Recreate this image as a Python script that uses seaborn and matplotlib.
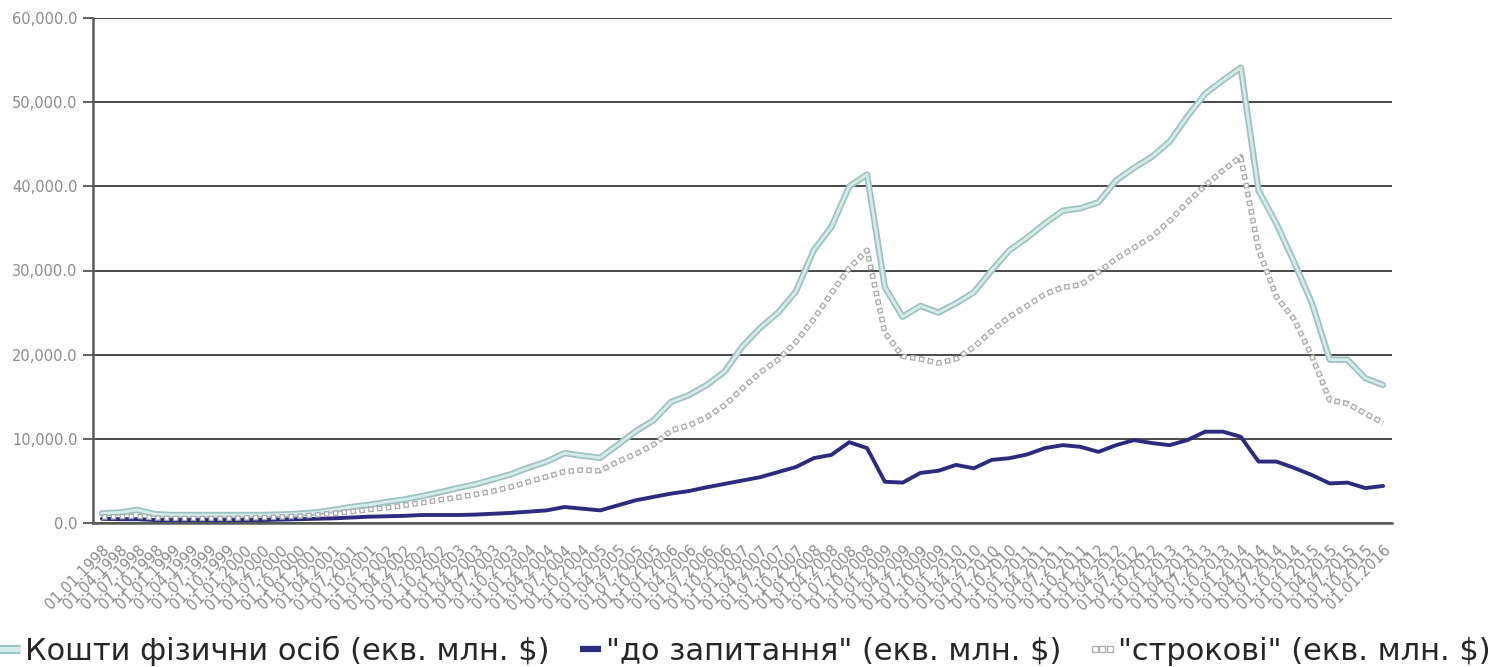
import numpy as np
import pandas as pd
import matplotlib
matplotlib.use("Agg")
import matplotlib.pyplot as plt
import matplotlib.patheffects as pe
from matplotlib.lines import Line2D
from matplotlib.legend_handler import HandlerLine2D
from matplotlib.ticker import FuncFormatter
import seaborn as sns

# --- дані: квартальні, 01.01.1998 - 01.01.2016, екв. млн. $ ---
dates = [f"01.{m:02d}.{y}" for y in range(1998, 2016) for m in (1, 4, 7, 10)] + ["01.01.2016"]

total = [1150, 1250, 1550, 1050, 950, 950, 950, 950, 950, 950,
         1000, 1100, 1250, 1550, 1900, 2150, 2500, 2800, 3200, 3650,
         4150, 4600, 5200, 5800, 6600, 7300, 8300, 8000, 7750, 9300,
         10900, 12200, 14400, 15200, 16400, 18000, 21000, 23200, 25000, 27500,
         32400, 35200, 40000, 41400, 28000, 24500, 25800, 25000, 26100, 27400,
         30000, 32400, 33900, 35600, 37100, 37400, 38100, 40700, 42200, 43500,
         45300, 48300, 51000, 52600, 54100, 39500, 35600, 31000, 26100, 19400,
         19400, 17200, 16400]

demand = [500, 450, 450, 350, 350, 350, 350, 350, 350, 350,
          400, 450, 500, 550, 650, 750, 800, 850, 950, 950,
          950, 1000, 1100, 1200, 1350, 1500, 1900, 1700, 1500, 2100,
          2700, 3100, 3500, 3800, 4250, 4650, 5050, 5450, 6050, 6650,
          7700, 8100, 9600, 8900, 4900, 4800, 5950, 6200, 6900, 6500,
          7500, 7700, 8150, 8900, 9250, 9050, 8450, 9250, 9850, 9500,
          9250, 9850, 10850, 10850, 10250, 7300, 7300, 6550, 5700, 4700,
          4800, 4150, 4400]

term = [700, 750, 800, 600, 550, 550, 550, 550, 600, 650,
        700, 800, 950, 1150, 1350, 1600, 1800, 2100, 2400, 2750,
        3050, 3400, 3800, 4300, 4900, 5500, 6100, 6300, 6200, 7300,
        8200, 9300, 11000, 11600, 12600, 14000, 16000, 17900, 19400, 21500,
        24200, 27300, 30300, 32400, 22600, 19800, 19500, 19000, 19500, 20900,
        22800, 24500, 25800, 27200, 28000, 28300, 29800, 31400, 32700, 34000,
        35900, 38100, 40100, 41900, 43500, 32500, 26900, 24200, 19800, 14600,
        14200, 13000, 11900]

labels = ["Кошти фізични осіб (екв. млн. $)",
          '"до запитання" (екв. млн. $)',
          '"строкові" (екв. млн. $)']

df = pd.DataFrame({"date": dates, "total": total, "demand": demand, "term": term})
df["pos"] = np.arange(len(df))

# --- стиль ---
sns.set_style("white")
plt.rcParams["font.family"] = ["DejaVu Sans"]
plt.rcParams["lines.scale_dashes"] = False

TEAL_IN, TEAL_OUT = "#d7ecea", "#9cc3c1"
NAVY = "#2d2b7d"
GREY = "#a8a8a8"
teal_fx = [pe.Stroke(linewidth=4.6, foreground=TEAL_OUT), pe.Normal()]

fig = plt.figure(figsize=(14.94, 6.67), dpi=100)
ax = fig.add_axes([93 / 1494, 1 - 523 / 667, (1392 - 93) / 1494, (523 - 18) / 667])

sns.lineplot(data=df, x="pos", y="total", ax=ax, color=TEAL_IN, lw=2.0,
             errorbar=None, zorder=3, path_effects=teal_fx)
sns.lineplot(data=df, x="pos", y="demand", ax=ax, color=NAVY, lw=2.8,
             errorbar=None, zorder=4)
# "строкові" - пунктир з порожніх квадратиків
sns.lineplot(data=df, x="pos", y="term", ax=ax, color=GREY, lw=4.0,
             linestyle=(0, (4.0, 2.4)), dash_capstyle="butt", errorbar=None, zorder=5)
sns.lineplot(data=df, x="pos", y="term", ax=ax, color="white", lw=2.2,
             linestyle=(5.5, (2.2, 4.2)), dash_capstyle="butt", errorbar=None, zorder=6)

# --- осі ---
ax.set_xlim(-0.5, len(df) - 0.5)
ax.set_ylim(0, 60000)
ax.set_yticks(np.arange(0, 60001, 10000))
ax.yaxis.set_major_formatter(FuncFormatter(lambda v, p: f"{v:,.1f}"))
ax.set_xticks(df["pos"])
ax.set_xticklabels(df["date"], rotation=45, ha="right", rotation_mode="anchor")
ax.set_xticks(np.arange(-0.5, len(df)), minor=True)
ax.tick_params(axis="x", which="major", length=0, pad=14, labelsize=10.5, labelcolor="#8a8a8a")
ax.tick_params(axis="x", which="minor", length=6, width=1.3, color="#555555", direction="out")
ax.tick_params(axis="y", length=7, width=1.3, color="#555555", pad=4,
               labelsize=10.5, labelcolor="#8a8a8a", left=True)
ax.set_xlabel("")
ax.set_ylabel("")
ax.yaxis.grid(True, color="#4a4a4a", lw=1.4)
ax.set_axisbelow(True)
for s in ["top", "right"]:
    ax.spines[s].set_visible(False)
for s in ["left", "bottom"]:
    ax.spines[s].set_color("#5a5a5a")
    ax.spines[s].set_linewidth(1.8)

# --- легенда ---
h_total = Line2D([], [], color=TEAL_IN, lw=3.5, solid_capstyle="butt",
                 path_effects=[pe.Stroke(linewidth=6.5, foreground=TEAL_OUT), pe.Normal()])
h_demand = Line2D([], [], color=NAVY, lw=4.5, solid_capstyle="butt")
h_term = Line2D([], [], ls="none", marker="s", markersize=4, markerfacecolor="white",
                markeredgecolor="#b0b0b0", markeredgewidth=1)
fig.legend([h_total, h_demand, h_term], labels, loc="lower left",
           bbox_to_anchor=(-0.004, -0.005), ncol=3, frameon=False, fontsize=22,
           numpoints=1, handlelength=0.7, handletextpad=0.15, columnspacing=1.0,
           borderaxespad=0.0, borderpad=0.15, labelcolor="#262626",
           handler_map={h_term: HandlerLine2D(numpoints=3, marker_pad=0.1)})

fig.savefig("out.png", dpi=100)
